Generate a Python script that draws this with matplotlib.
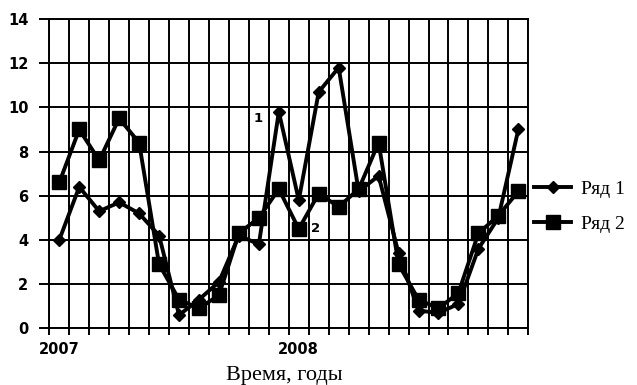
import numpy as np
import matplotlib.pyplot as plt
from matplotlib.ticker import MultipleLocator, FixedLocator

# Значения рядов (24 месяца: 2007-2008)
ryad1 = [4.0, 6.4, 5.3, 5.7, 5.2, 4.2, 0.6, 1.3, 2.1, 4.2, 3.8, 9.8,
         5.8, 10.7, 11.8, 6.2, 6.9, 3.4, 0.8, 0.7, 1.1, 3.6, 5.0, 9.0]
ryad2 = [6.6, 9.0, 7.6, 9.5, 8.4, 2.9, 1.3, 0.9, 1.5, 4.3, 5.0, 6.3,
         4.5, 6.1, 5.5, 6.3, 8.4, 2.9, 1.3, 0.9, 1.6, 4.3, 5.1, 6.2]
x_labels = {0: "2007", 12: "2008"}

x = np.arange(len(ryad1))

fig = plt.figure(figsize=(6.37, 3.85), dpi=100)
ax = fig.add_axes([49.3 / 637, 1 - 328.3 / 385, 479 / 637, 309.3 / 385])

ax.plot(x, ryad1, color="black", lw=2.8, marker="D", ms=6.5, label="Ряд 1", zorder=3)
ax.plot(x, ryad2, color="black", lw=2.8, marker="s", ms=9.5, label="Ряд 2", zorder=3)

ax.set_xlim(-0.5, len(x) - 0.5)
ax.set_ylim(0, 14)

# сетка
ax.yaxis.set_major_locator(MultipleLocator(2))
ax.xaxis.set_minor_locator(FixedLocator(np.arange(-0.5, len(x), 1)))
ax.xaxis.set_major_locator(FixedLocator(list(x_labels.keys())))
ax.set_xticklabels(list(x_labels.values()))
ax.grid(axis="y", which="major", color="black", lw=1.4)
ax.grid(axis="x", which="minor", color="black", lw=1.4)
ax.tick_params(axis="x", which="major", length=0, pad=10)
ax.tick_params(axis="x", which="minor", length=5, width=1.4, direction="out")
ax.tick_params(axis="y", length=7, width=1.4, direction="out", pad=8)
for lbl in ax.get_xticklabels() + ax.get_yticklabels():
    lbl.set_fontweight("bold")
    lbl.set_fontsize(10.5)
    lbl.set_family("DejaVu Sans")
for s in ax.spines.values():
    s.set_linewidth(1.4)

ax.text(11 - 0.8, 9.5, "1", fontsize=9.5, fontweight="bold", ha="right", va="center")
ax.text(12 + 0.6, 4.5, "2", fontsize=9.5, fontweight="bold", ha="left", va="center")

ax.set_xlabel("Время, годы", family="Liberation Serif", fontsize=16, va="center")
ax.xaxis.set_label_coords(0.49, -0.151)

ax.legend(loc="center left", bbox_to_anchor=(1.0, 0.393), frameon=False,
          prop={"family": "Liberation Serif", "size": 14}, handlelength=1.9,
          labelspacing=0.9, handletextpad=0.5, borderaxespad=0.1, borderpad=0.2)

fig.savefig("out.png", dpi=100)
